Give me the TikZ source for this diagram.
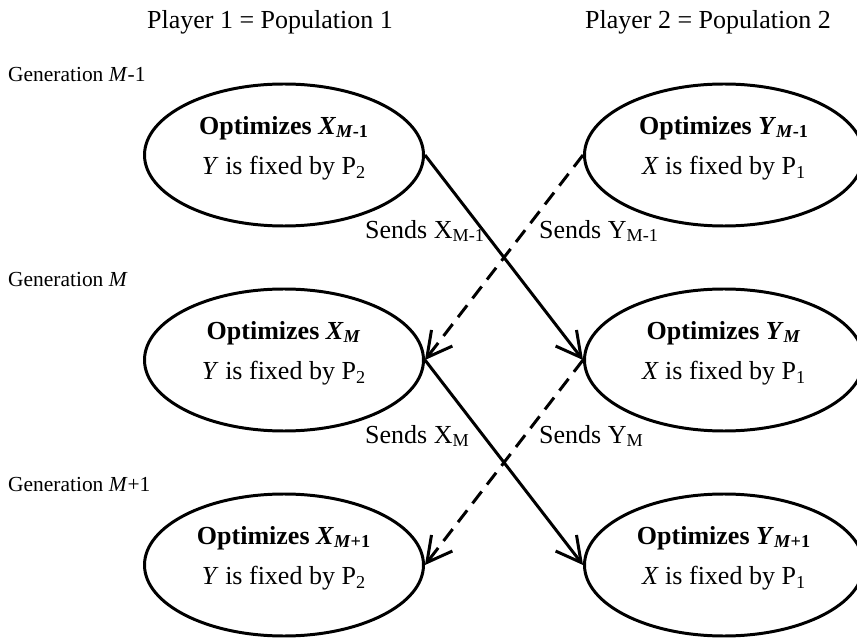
\documentclass[tikz,border=0pt]{standalone}
\usepackage{fontspec}
\setmainfont{Liberation Serif}
\usetikzlibrary{calc, positioning, shapes.geometric}
\usetikzlibrary{arrows.meta}

\tikzset{
    popnode/.style={draw, ellipse, line width=1.7pt, minimum width=5.58cm, minimum height=2.84cm, inner sep=0pt},
    optext/.style={align=center, font=\fontsize{14.8}{22.8}\selectfont},
    sendtext/.style={anchor=west, font=\fontsize{14.8}{17}\selectfont},
    gentext/.style={anchor=west, font=\fontsize{12.2}{14}\selectfont},
    sendarrow/.style={-{Straight Barb[length=14pt,width=15pt]}, line width=1.7pt},
    sendback/.style={sendarrow, dash pattern=on 8.5pt off 5pt},
}

\begin{document}
\begin{tikzpicture}
        \useasboundingbox (0,0) rectangle (17.14,-12.88);
        
        % players
        \node[font=\fontsize{14.8}{17}\selectfont] (pl1) at (5.40,-0.44) {Player 1 = Population 1};
        \node[font=\fontsize{14.8}{17}\selectfont] (pl2) at (14.16,-0.44) {Player 2 = Population 2};
        
        \foreach \r/\yy/\gsub in 
        {1/-3.1/{\textit{M}-1}, 2/-7.2/{\textit{M}}, 3/-11.3/{\textit{M}+1}}
        {
            \node[popnode] (x\r) at (5.68,\yy) {};
            \node[popnode] (y\r) at (14.48,\yy) {};
            \node[optext] (xt\r) at ($(x\r)+(0,0.14)$) {\textbf{Optimizes \textit{X}\textsubscript{\gsub}}\\\textit{Y} is fixed by P\textsubscript{2}};
            \node[optext] (yt\r) at ($(y\r)+(0,0.14)$) {\textbf{Optimizes \textit{Y}\textsubscript{\gsub}}\\\textit{X} is fixed by P\textsubscript{1}};
            \node[gentext] (gen\r) at (0.04,\yy+1.6) {Generation \gsub};
        };
        
        % sends
        \foreach \r/\n/\yy/\s in 
        {1/2/-4.62/M-1, 2/3/-8.72/M}
        {
            \draw[sendback] (y\r.west) -- (x\n.east);
            \draw[sendarrow] (x\r.east) -- (y\n.west);
            \node[sendtext] (sx\r) at (7.18,\yy) {Sends X\textsubscript{\s}};
            \node[sendtext] (sy\r) at (10.66,\yy) {Sends Y\textsubscript{\s}};
        };
    \end{tikzpicture}
\end{document}
